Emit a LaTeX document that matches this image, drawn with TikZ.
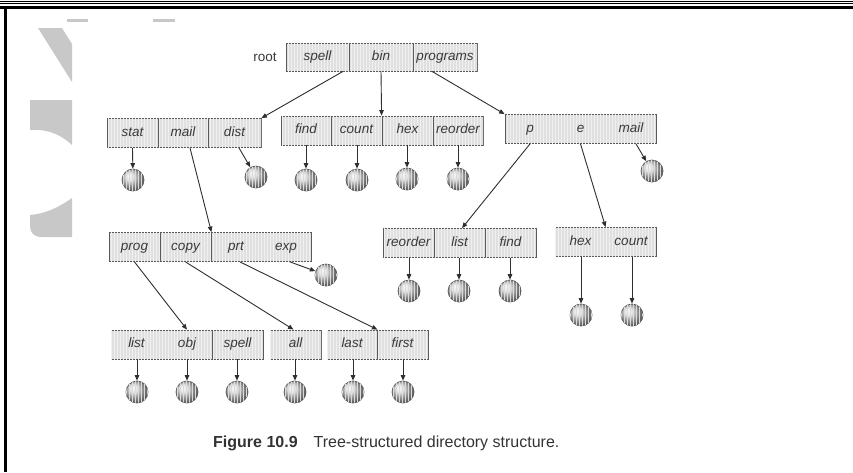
\documentclass[tikz,border=0pt]{standalone}
\usepackage{fontspec}
\setmainfont{Liberation Sans}
\usetikzlibrary{arrows.meta,calc,patterns}
\definecolor{boxfill}{HTML}{E0E0E0}
\definecolor{boxline}{HTML}{5A5A5A}
\definecolor{labeltext}{HTML}{3A3A3A}
\definecolor{leafline}{HTML}{5C5C5C}
\definecolor{linkcol}{HTML}{2E2E2E}
\definecolor{captext}{HTML}{333333}
\definecolor{markgray}{HTML}{C8C8C8}
\begin{document}
\begin{tikzpicture}[x=1pt,y=-1pt,
  cell/.style={draw=boxline, fill=boxfill, line width=0.8pt,
    minimum height=29pt, inner sep=0pt, text height=9.5pt, text depth=3pt,
    font=\fontsize{13.5}{14}\selectfont\itshape, text=labeltext,
    postaction={pattern=vertical lines, pattern color=gray!12}},
  leaf/.style={circle, minimum size=22pt, inner sep=0pt,
    draw=leafline, line width=0.7pt, ball color=gray!30,
    postaction={pattern=vertical lines, pattern color=gray!28}},
  link/.style={draw=linkcol, line width=0.9pt,
    -{Triangle[length=5.5pt,width=4.5pt]}},
]
\useasboundingbox (0,0) rectangle (853,472);

% page rules
\draw[line width=1pt] (0,1.3) -- (853,1.3);
\draw[line width=1pt] (0,3.6) -- (853,3.6);
\draw[line width=3pt] (0,7.5) -- (853,7.5);
\draw[line width=3pt] (5.5,6) -- (5.5,472);

% faint background mark
\fill[markgray] (38,28) -- (62,28) -- (72,44) -- (72,82) -- cycle;
\fill[markgray] (67,19) rectangle (88,22);
\fill[markgray] (153,19) rectangle (175,22);
\fill[markgray] (30,100) -- (72,100) -- (72,145) .. controls (58,132) and (44,129) .. (30,130) -- cycle;
\fill[markgray] (30,215) .. controls (44,214) and (58,208) .. (72,198) -- (72,237) -- (42,237) .. controls (34,237) and (30,233) .. (30,226) -- cycle;

% root directory
\node[font=\fontsize{13.5}{14}\selectfont, text=labeltext] (rootlbl) at (265,57) {root};
\node[cell, minimum width=63pt, minimum height=28pt] (r-spell) at (317.5,57) {spell};
\node[cell, minimum width=64pt, minimum height=28pt] (r-bin) at (381,57) {bin};
\node[cell, minimum width=64pt, minimum height=28pt] (r-programs) at (445,57) {programs};

% second level
\node[cell, minimum width=51pt] (spell-stat) at (132.5,133) {stat};
\node[cell, minimum width=50pt] (spell-mail) at (183,133) {mail};
\node[cell, minimum width=53pt] (spell-dist) at (234.5,133) {dist};

\node[cell, minimum width=50pt] (bin-find) at (306,130.5) {find};
\node[cell, minimum width=51pt] (bin-count) at (356.5,130.5) {count};
\node[cell, minimum width=51pt] (bin-hex) at (407.5,130.5) {hex};
\node[cell, minimum width=50pt] (bin-reorder) at (458,130.5) {reorder};

\node[cell, minimum width=50pt] (prg-p) at (530,129) {p};
\node[cell, minimum width=51pt] (prg-e) at (580.5,129) {e};
\node[cell, minimum width=50pt] (prg-mail) at (631,129) {mail};

% third level
\node[cell, minimum width=51pt] (mail-prog) at (134.5,247) {prog};
\node[cell, minimum width=51pt] (mail-copy) at (185.5,247) {copy};
\node[cell, minimum width=50pt] (mail-prt) at (236,247) {prt};
\node[cell, minimum width=50pt] (mail-exp) at (286,247) {exp};

\node[cell, minimum width=51pt] (p-reorder) at (408.5,243) {reorder};
\node[cell, minimum width=51pt] (p-list) at (459.5,243) {list};
\node[cell, minimum width=51pt] (p-find) at (510.5,243) {find};

\node[cell, minimum width=51pt] (e-hex) at (580.5,242) {hex};
\node[cell, minimum width=50pt] (e-count) at (631,242) {count};

% fourth level
\node[cell, minimum width=51pt] (prog-list) at (136.5,344.5) {list};
\node[cell, minimum width=50pt] (prog-obj) at (187,344.5) {obj};
\node[cell, minimum width=51pt] (prog-spell) at (237.5,344.5) {spell};

\node[cell, minimum width=51pt] (copy-all) at (295.5,344.5) {all};

\node[cell, minimum width=50pt] (prt-last) at (352,344.5) {last};
\node[cell, minimum width=51pt] (prt-first) at (402.5,344.5) {first};

% files
\node[leaf] (f-stat) at (133,180) {};
\node[leaf] (f-dist) at (256,177) {};
\node[leaf] (f-find) at (306,180) {};
\node[leaf] (f-count) at (357,180) {};
\node[leaf] (f-hex) at (407,179) {};
\node[leaf] (f-reorder) at (458,179) {};
\node[leaf] (f-mail) at (652,171) {};
\node[leaf] (f-exp) at (326,275) {};
\node[leaf] (f-preorder) at (409,291) {};
\node[leaf] (f-plist) at (459,291) {};
\node[leaf] (f-pfind) at (510,291) {};
\node[leaf] (f-ehex) at (581,315) {};
\node[leaf] (f-ecount) at (632,315) {};
\node[leaf] (f-list) at (137,392) {};
\node[leaf] (f-obj) at (187,392) {};
\node[leaf] (f-spell) at (237,392) {};
\node[leaf] (f-all) at (295,392) {};
\node[leaf] (f-last) at (353,392) {};
\node[leaf] (f-first) at (403,392) {};

% directory links
\draw[link] ($(r-spell.south)+(25.5,0)$) -- (spell-dist.north east);
\draw[link] (r-bin.south) -- (bin-hex.north west);
\draw[link] ($(r-programs.south)+(-13,0)$) -- (prg-p.north west);
\draw[link] ($(spell-mail.south)+(7,0)$) -- (mail-copy.north east);
\draw[link] (prg-p.south) -- ($(p-list.north)+(2.5,0)$);
\draw[link] (prg-e.south) -- (e-count.north west);
\draw[link] (mail-prog.south) -- (prog-obj.north);
\draw[link] (mail-copy.south) -- ($(copy-all.north)+(-2,0)$);
\draw[link] ($(mail-prt.south)+(4,0)$) -- (prt-last.north east);

% file links
\draw[link] (spell-stat.south) -- (f-stat);
\draw[link] ($(spell-dist.south)+(4.5,0)$) -- (f-dist);
\draw[link] (bin-find.south) -- (f-find);
\draw[link] ($(bin-count.south)+(0.5,0)$) -- (f-count);
\draw[link] ($(bin-hex.south)+(-0.5,0)$) -- (f-hex);
\draw[link] (bin-reorder.south) -- (f-reorder);
\draw[link] ($(prg-mail.south)+(5,0)$) -- (f-mail);
\draw[link] ($(mail-exp.south)+(4,0)$) -- (f-exp);
\draw[link] ($(p-reorder.south)+(0.5,0)$) -- (f-preorder);
\draw[link] ($(p-list.south)+(-0.5,0)$) -- (f-plist);
\draw[link] ($(p-find.south)+(-0.5,0)$) -- (f-pfind);
\draw[link] ($(e-hex.south)+(0.5,0)$) -- (f-ehex);
\draw[link] ($(e-count.south)+(1,0)$) -- (f-ecount);
\draw[link] ($(prog-list.south)+(0.5,0)$) -- (f-list);
\draw[link] (prog-obj.south) -- (f-obj);
\draw[link] ($(prog-spell.south)+(-0.5,0)$) -- (f-spell);
\draw[link] ($(copy-all.south)+(-0.5,0)$) -- (f-all);
\draw[link] ($(prt-last.south)+(1,0)$) -- (f-last);
\draw[link] ($(prt-first.south)+(0.5,0)$) -- (f-first);

% caption
\node[anchor=base west, font=\fontsize{16}{19}\selectfont, text=captext, inner sep=0pt]
  (caption) at (213,447) {\textbf{Figure 10.9}\hspace{16pt}Tree-structured directory structure.};
\end{tikzpicture}
\end{document}
